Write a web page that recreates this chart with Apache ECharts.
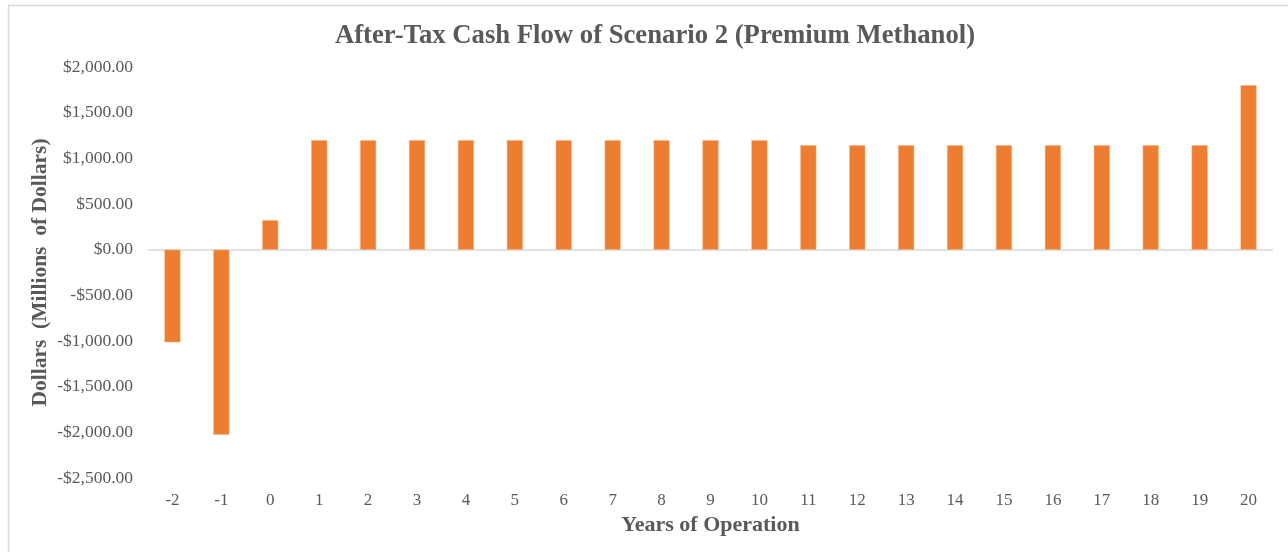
<!DOCTYPE html>
<html>
<head>
<meta charset="utf-8">
<script src="https://cdn.jsdelivr.net/npm/echarts@6/dist/echarts.min.js"></script>
<style>
  html, body { margin: 0; padding: 0; background: #fff; }
  #chart { width: 1288px; height: 552px; }
</style>
</head>
<body>
<div id="chart"></div>
<script>
// Years of operation (construction years are negative)
const years = ['-2', '-1', '0', '1', '2', '3', '4', '5', '6', '7', '8', '9', '10',
               '11', '12', '13', '14', '15', '16', '17', '18', '19', '20'];
// After-tax cash flow, millions of dollars
const cashFlow = [-1015, -2026, 323,
                  1198, 1198, 1198, 1198, 1198, 1198, 1198, 1198, 1198, 1198,
                  1143, 1143, 1143, 1143, 1143, 1143, 1143, 1143, 1143,
                  1800];

const serif = '"Liberation Serif", "Times New Roman", serif';
const grey = '#595959';
const lineGrey = '#d9d9d9';

function money(v) {
  const s = Math.abs(v).toLocaleString('en-US', { minimumFractionDigits: 2, maximumFractionDigits: 2 });
  return (v < 0 ? '-$' : '$') + s;
}

const chart = echarts.init(document.getElementById('chart'), null, { renderer: 'canvas' });
chart.setOption({
  animation: false,
  backgroundColor: '#fff',
  title: {
    text: 'After-Tax Cash Flow of Scenario 2 (Premium Methanol)',
    left: 650, top: 18, textAlign: 'center',
    textStyle: { fontFamily: serif, fontSize: 26.7, fontWeight: 'bold', color: grey }
  },
  graphic: [{
    type: 'rect', silent: true, z: -1,
    shape: { x: 8.5, y: 5.5, width: 1290, height: 560 },
    style: { fill: 'none', stroke: lineGrey, lineWidth: 1.5 }
  }],
  grid: { left: 148, right: 15, top: 67, bottom: 74, containLabel: false },
  xAxis: {
    type: 'category',
    data: years,
    axisLine: { show: false, onZero: false },
    axisTick: { show: false },
    axisLabel: { interval: 0, fontFamily: serif, fontSize: 17, color: grey, margin: 14 },
    name: 'Years of Operation',
    nameLocation: 'middle',
    nameGap: 8,
    nameTextStyle: { fontFamily: serif, fontSize: 22, fontWeight: 'bold', color: grey }
  },
  yAxis: {
    type: 'value',
    min: -2500, max: 2000, interval: 500,
    axisLine: { show: false },
    axisTick: { show: false },
    splitLine: { show: false },
    axisLabel: { fontFamily: serif, fontSize: 17.5, color: grey, margin: 15, formatter: money },
    name: 'Dollars  (Millions  of Dollars)',
    nameLocation: 'middle',
    nameMoveOverlap: false,
    nameGap: 97,
    nameRotate: 90,
    nameTextStyle: { fontFamily: serif, fontSize: 21.5, fontWeight: 'bold', color: grey }
  },
  series: [{
    type: 'bar',
    data: cashFlow,
    barWidth: 16,
    itemStyle: { color: '#ED7D31', borderColor: '#F4B183', borderWidth: 0.5 },
    // horizontal category line through zero
    markLine: {
      silent: true, symbol: 'none', z: 1,
      label: { show: false },
      lineStyle: { color: lineGrey, width: 1.5, type: 'solid' },
      data: [{ yAxis: 0 }]
    }
  }]
});
</script>
</body>
</html>
